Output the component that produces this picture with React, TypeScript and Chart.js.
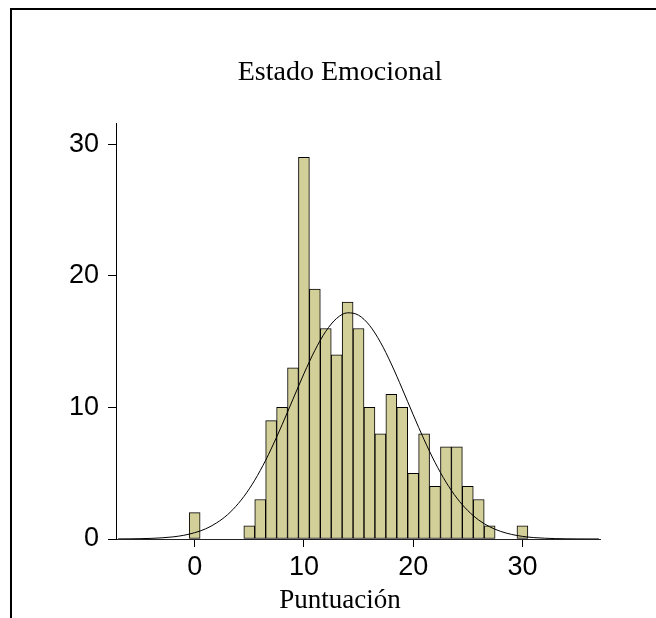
import React, { useEffect, useRef } from "react";
import { Chart, registerables } from "chart.js";

Chart.register(...registerables);

// ---- data ----
const chartTitle = "Estado Emocional";
const xAxisTitle = "Puntuación";

const binCenters = [0, 5, 6, 7, 8, 9, 10, 11, 12, 13, 14, 15, 16, 17, 18, 19, 20, 21, 22, 23, 24, 25, 26, 27, 30];
const binCounts = [2, 1, 3, 9, 10, 13, 29, 19, 16, 14, 18, 16, 10, 8, 11, 10, 5, 8, 4, 7, 7, 4, 3, 1, 1];

const curveX = [-7, -6, -5, -4, -3, -2, -1, 0, 1, 2, 3, 4, 5, 6, 7, 8, 9, 10, 11, 12, 13, 14, 15, 16, 17, 18, 19, 20, 21, 22, 23, 24, 25, 26, 27, 28, 29, 30, 31, 32, 33, 34, 35, 36, 37];
const curveY = [0.006, 0.012, 0.024, 0.047, 0.089, 0.16, 0.28, 0.48, 0.77, 1.22, 1.84, 2.7, 3.81, 5.2, 6.84, 8.68, 10.63, 12.56, 14.33, 15.78, 16.77, 17.19, 17.01, 16.24, 14.96, 13.3, 11.41, 9.45, 7.55, 5.82, 4.33, 3.11, 2.16, 1.44, 0.93, 0.58, 0.35, 0.2, 0.11, 0.061, 0.032, 0.016, 0.008, 0.004, 0.002];

const xTickValues = [0, 10, 20, 30];
const yTickValues = [0, 10, 20, 30];

export default function App() {
  const canvasRef = useRef<HTMLCanvasElement | null>(null);

  useEffect(() => {
    const canvas = canvasRef.current;
    if (!canvas) return;

    const barData = binCenters.map((x, i) => ({ x, y: binCounts[i] }));
    const lineData = curveX.map((x, i) => ({ x, y: curveY[i] }));

    const tickFont = { family: "'Liberation Sans', Arial, sans-serif", size: 27 };
    const serifFont = { family: "'Liberation Serif', 'Times New Roman', serif", size: 28, weight: "normal" as const };

    const chart = new Chart(canvas, {
      type: "bar",
      data: {
        datasets: [
          {
            type: "line",
            data: lineData,
            borderColor: "#000",
            borderWidth: 1,
            pointRadius: 0,
            fill: false,
            cubicInterpolationMode: "monotone",
            order: 0,
          } as any,
          {
            type: "bar",
            data: barData,
            backgroundColor: "#D3CF99",
            borderColor: "#000",
            borderWidth: 1,
            borderSkipped: false,
            barPercentage: 1,
            categoryPercentage: 1,
            order: 1,
          } as any,
        ],
      },
      options: {
        responsive: false,
        animation: false,
        events: [],
        layout: { padding: { left: 24, right: 0, top: 0, bottom: 0 } },
        plugins: {
          legend: { display: false },
          tooltip: { enabled: false },
          title: {
            display: true,
            text: chartTitle,
            color: "#000",
            font: serifFont,
            padding: { top: 56, bottom: 33.6 },
          },
          subtitle: {
            display: true,
            text: xAxisTitle,
            position: "bottom",
            color: "#000",
            font: { family: "'Liberation Serif', 'Times New Roman', serif", size: 27, weight: "normal" as const },
            padding: { top: 0, bottom: 1 },
          },
        },
        scales: {
          x: {
            type: "linear",
            min: -7.2,
            max: 37.1,
            offset: false,
            afterBuildTicks: (scale: any) => {
              scale.ticks = xTickValues.map((v) => ({ value: v }));
            },
            afterFit: (scale: any) => {
              scale.height = 45.6;
            },
            grid: {
              offset: false,
              drawOnChartArea: false,
              drawTicks: true,
              tickLength: 8,
              color: "#000",
            },
            border: { display: true, color: "#222", width: 1 },
            ticks: {
              color: "#000",
              font: tickFont,
              padding: 4,
              maxRotation: 0,
              autoSkip: false,
            },
          },
          y: {
            type: "linear",
            position: "left",
            min: 0,
            max: 31.6,
            afterBuildTicks: (scale: any) => {
              scale.ticks = yTickValues.map((v) => ({ value: v }));
            },
            afterFit: (scale: any) => {
              scale.width = 92;
            },
            grid: {
              offset: false,
              drawOnChartArea: false,
              drawTicks: true,
              tickLength: 8,
              color: "#000",
            },
            border: { display: true, color: "#000", width: 1 },
            ticks: {
              color: "#000",
              font: tickFont,
              padding: 9,
              autoSkip: false,
            },
          },
          yRightSpace: {
            type: "linear",
            position: "right",
            display: true,
            min: 0,
            max: 31.6,
            afterFit: (scale: any) => {
              scale.width = 56;
            },
            grid: { display: false, drawTicks: false },
            border: { display: false },
            ticks: { display: false },
          },
        },
      },
    });

    return () => {
      chart.destroy();
    };
  }, []);

  return (
    <div
      style={{
        position: "fixed",
        left: 0,
        top: 0,
        width: 656,
        height: 618,
        overflow: "hidden",
        background: "#fff",
      }}
    >
      <canvas ref={canvasRef} width={656} height={618} style={{ display: "block" }} />
      <div
        style={{
          position: "absolute",
          left: 10,
          top: 8,
          width: 700,
          height: 700,
          borderTop: "2px solid #000",
          borderLeft: "2px solid #000",
          pointerEvents: "none",
        }}
      />
    </div>
  );
}
